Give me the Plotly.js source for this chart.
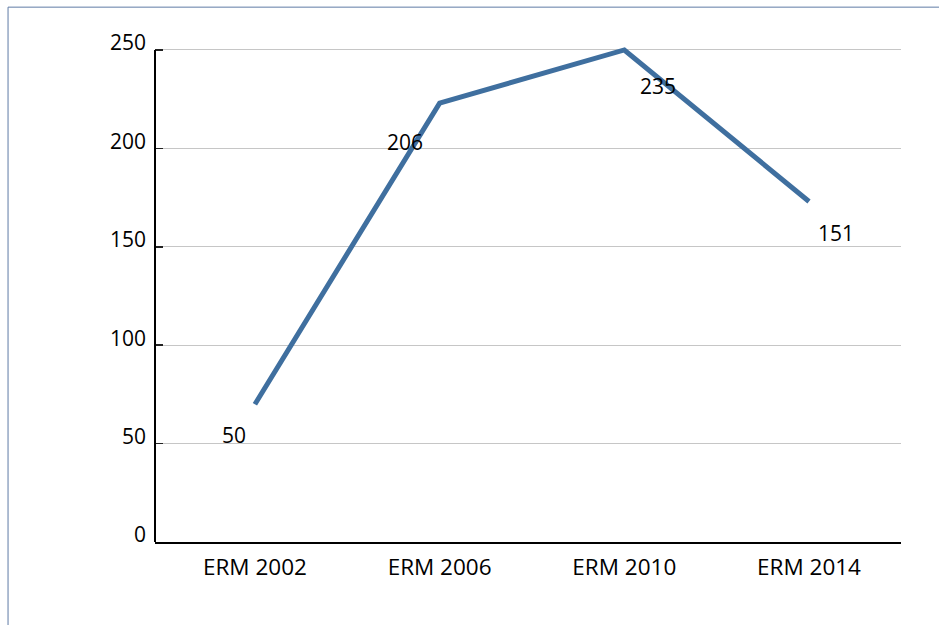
<!DOCTYPE html>
<html>
<head>
<meta charset="utf-8">
<script src="https://cdn.plot.ly/plotly-3.0.1.min.js"></script>
<style>
  html, body { margin: 0; padding: 0; background: #ffffff; }
  #chart { width: 939px; height: 625px; }
</style>
</head>
<body>
<div id="chart"></div>
<script>
// Categories (x axis)
var categories = ["ERM 2002", "ERM 2006", "ERM 2010", "ERM 2014"];
// Line positions
var lineValues = [70, 223, 250, 173];
// Data labels as printed on the chart
var labelTexts = ["50", "206", "235", "151"];
// Y axis ticks
var yTicks = [0, 50, 100, 150, 200, 250];

var FONT = "'Open Sans', 'Noto Sans', sans-serif";
var lineColor = "#3f6f9f";

var trace = {
  type: "scatter",
  mode: "lines",
  x: categories,
  y: lineValues,
  line: { color: lineColor, width: 5 },
  cliponaxis: false,
  hoverinfo: "x+y",
  showlegend: false
};

// label offsets relative to the line points (pixels)
var labelShift = [[-21, -31], [-35, -39], [34, -36], [27, -31]];
var annotations = categories.map(function (c, i) {
  return {
    x: c, y: lineValues[i], xref: "x", yref: "y",
    text: labelTexts[i], showarrow: false,
    xshift: labelShift[i][0], yshift: labelShift[i][1],
    font: { family: FONT, size: 21, color: "#000000" }
  };
});

var layout = {
  width: 939, height: 625,
  margin: { l: 155, r: 38, t: 47, b: 83, pad: 0 },
  paper_bgcolor: "#ffffff",
  plot_bgcolor: "#ffffff",
  font: { family: FONT, size: 22, color: "#000000" },
  showlegend: false,
  xaxis: {
    type: "category",
    range: [-0.541, 3.498],
    showgrid: false,
    zeroline: false,
    showline: true, linecolor: "#000000", linewidth: 2,
    ticks: "", ticklabelstandoff: 4,
    tickfont: { family: FONT, size: 22.5, color: "#000000" },
    fixedrange: true
  },
  yaxis: {
    range: [0, 251.5],
    tickvals: yTicks,
    ticktext: yTicks.map(String),
    showgrid: true, gridcolor: "#c6c6c6", gridwidth: 1,
    zeroline: false,
    showline: false,
    ticks: "inside", ticklen: 8, tickwidth: 1.5, tickcolor: "#222222",
    ticklabelstandoff: 8,
    ticklabelshift: -7,
    tickfont: { family: FONT, size: 21, color: "#000000" },
    fixedrange: true
  },
  shapes: [
    { type: "line", xref: "paper", yref: "y", x0: 0, x1: 0, y0: 0, y1: 250,
      line: { color: "#000000", width: 2 } },
    { type: "line", xref: "paper", yref: "paper", x0: -0.197, x1: 1.1, y0: 1.0805, y1: 1.0805,
      line: { color: "#5f7ba5", width: 1 } },
    { type: "line", xref: "paper", yref: "paper", x0: -0.197, x1: -0.197, y0: 1.0805, y1: -0.2,
      line: { color: "#5f7ba5", width: 1 } }
  ],
  annotations: annotations
};

Plotly.newPlot("chart", [trace], layout, { staticPlot: true, displayModeBar: false });
</script>
</body>
</html>
